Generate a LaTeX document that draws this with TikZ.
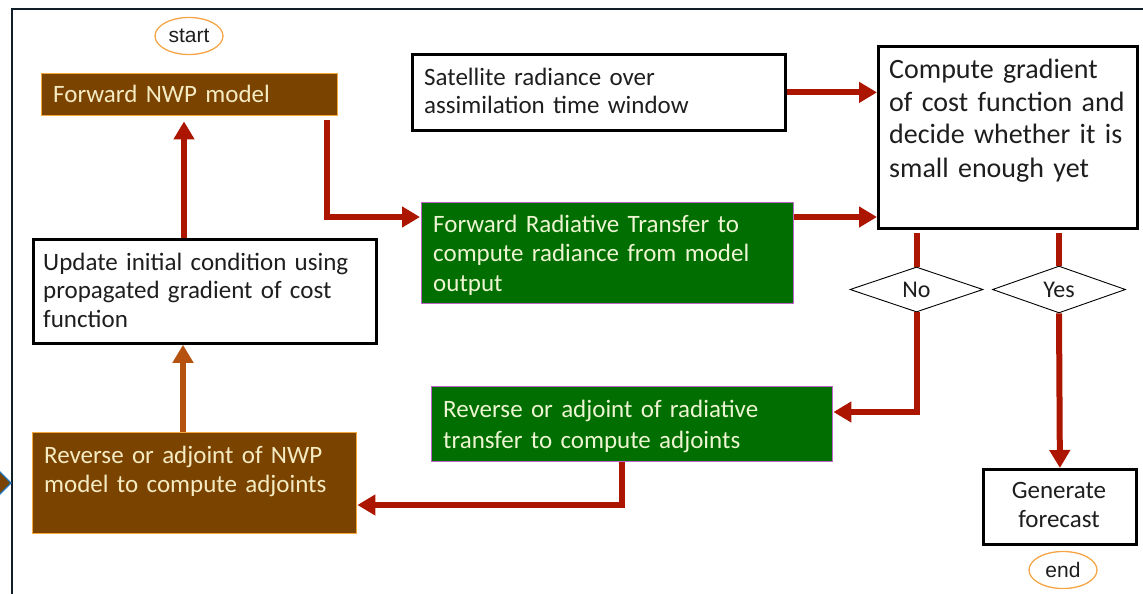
\documentclass[tikz,border=0pt]{standalone}
\usepackage{fontspec}
\setmainfont{Carlito}
\newfontfamily\arialf{Liberation Sans}
\usetikzlibrary{arrows.meta,shapes.geometric}
\definecolor{brownfill}{RGB}{122,68,0}
\definecolor{brownedge}{RGB}{245,168,60}
\definecolor{greenfill}{RGB}{0,110,0}
\definecolor{greenedge}{RGB}{190,100,200}
\definecolor{creamtext}{RGB}{245,235,195}
\definecolor{greentext}{RGB}{238,245,210}
\definecolor{arrred}{RGB}{172,22,0}
\definecolor{arrorange}{RGB}{182,82,16}
\definecolor{ovaledge}{RGB}{245,165,70}
\definecolor{darktext}{RGB}{30,30,30}
\definecolor{frame}{RGB}{16,30,40}
\definecolor{tribl}{RGB}{30,120,190}
\begin{document}
\begin{tikzpicture}[x=1pt,y=-1pt,
  wbox/.style={draw=black,line width=2.8pt,fill=white,anchor=north west,inner sep=0pt},
  bbox/.style={draw=brownedge,line width=1.4pt,fill=brownfill,anchor=north west,inner sep=0pt},
  gbox/.style={draw=greenedge,line width=1.4pt,fill=greenfill,anchor=north west,inner sep=0pt},
  txt/.style={anchor=base west,inner sep=0pt,align=left,font=\fontsize{25}{29}\selectfont},
  oval/.style={ellipse,draw=ovaledge,line width=1.3pt,inner sep=0pt,minimum width=68pt,minimum height=37pt,font=\arialf\fontsize{21}{24}\selectfont,text=darktext},
  dia/.style={diamond,draw=black,line width=0.9pt,fill=white,inner sep=0pt,minimum width=133pt,minimum height=45pt,font=\fontsize{24}{28}\selectfont,text=darktext},
  arr/.style={draw=arrred,line width=6pt,line join=miter,-{Triangle[width=20pt,length=18pt]}},
  ln/.style={draw=arrred,line width=6pt}
]
\useasboundingbox (0,0) rectangle (1143,594);
% frame
\draw[frame,line width=2.2pt] (12,594) -- (12,9) -- (1143,9);
\draw[draw=tribl,fill=brownfill,line width=1.2pt] (-1,471) -- (11,483) -- (-1,495) -- cycle;

% start / end
\node[oval] (start) at (189,36) {start};
\node[oval] (end) at (1063,570) {end};

% boxes
\node[bbox,minimum width=296pt,minimum height=42pt] (nwp) at (41,73) {};
\node[txt,text=creamtext,text width=280pt] (nwpT) at (53,102) {Forward NWP model};

\node[wbox,minimum width=373pt,minimum height=76pt] (sat) at (411,53) {};
\node[txt,text=darktext,text width=355pt,font=\fontsize{25}{28}\selectfont] (satT) at (424,85) {Satellite radiance over\\assimilation time window};

\node[wbox,minimum width=259pt,minimum height=182pt] (cmp) at (877,45) {};
\node[txt,text=darktext,text width=245pt,font=\fontsize{28}{33}\selectfont] (cmpT) at (889,78) {Compute gradient\\of cost function and\\decide whether it is\\small enough yet};

\node[gbox,minimum width=372pt,minimum height=101pt] (frt) at (421,202) {};
\node[txt,text=greentext,text width=355pt,font=\fontsize{25}{29.5}\selectfont] (frtT) at (433,232) {Forward Radiative Transfer to\\compute radiance from model\\output};

\node[wbox,minimum width=343pt,minimum height=104pt] (upd) at (32,238) {};
\node[txt,text=darktext,text width=330pt,font=\fontsize{25}{28.5}\selectfont] (updT) at (43,270) {Update initial condition using\\propagated gradient of cost\\function};

\node[gbox,minimum width=401pt,minimum height=75pt] (rrt) at (431,386) {};
\node[txt,text=greentext,text width=385pt,font=\fontsize{25}{31}\selectfont] (rrtT) at (443,417) {Reverse or adjoint of radiative\\transfer to compute adjoints};

\node[bbox,minimum width=324pt,minimum height=101pt] (rnwp) at (32,432) {};
\node[txt,text=creamtext,text width=310pt] (rnwpT) at (44,463) {Reverse or adjoint of NWP\\model to compute adjoints};

\node[wbox,minimum width=153pt,minimum height=75pt] (gen) at (982,468) {};
\node[txt,anchor=base,align=center,text=darktext,text width=150pt] (genT) at (1059,498) {Generate\\forecast};

% decisions
\node[dia] (no) at (916.5,289.5) {No};
\node[dia] (yes) at (1059,289.5) {Yes};

% connectors
\draw[arr] (upd.north -| 184,0) -- ([yshift=-5pt]nwp.south -| 184,0);
\draw[arr] ([xshift=-11pt,yshift=-4pt]nwp.south east) |- ([xshift=-1pt,yshift=-15pt]frt.north west);
\draw[arr] (sat.east) -- (sat.east -| cmp.west);
\draw[arr] ([yshift=-15pt]frt.north east) -- ([yshift=-15pt]frt.north east -| cmp.west);
\draw[ln] ([yshift=-3pt]cmp.south -| no.north) -- (no.north);
\draw[ln] ([yshift=-3pt]cmp.south -| yes.north) -- (yes.north);
\draw[arr] (no.south) |- ([yshift=-26pt]rrt.north east);
\draw[arr] (yes.south) -- (gen.north);
\draw[arr] (rrt.south -| 622,0) |- ([yshift=-73pt]rnwp.north east);
\draw[arr,draw=arrorange] (rnwp.north -| 183,0) -- (upd.south -| 183,0);
\end{tikzpicture}
\end{document}
